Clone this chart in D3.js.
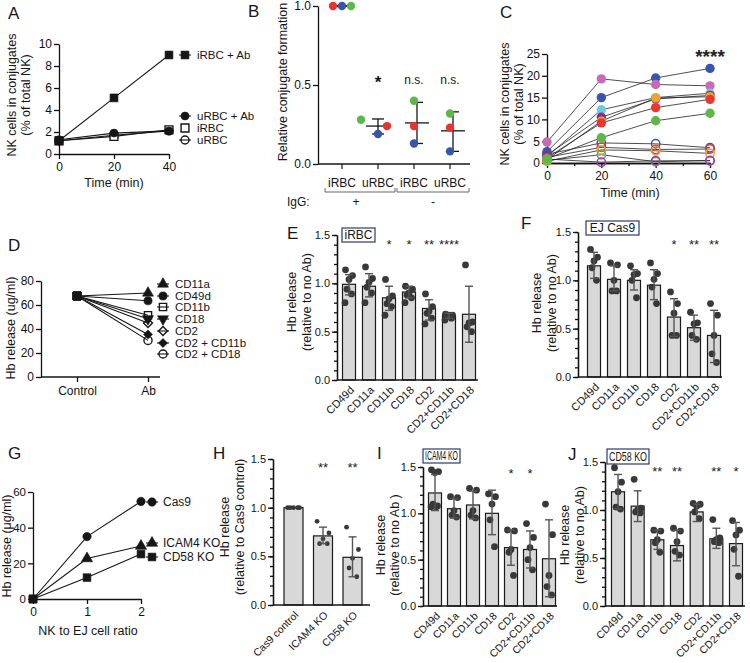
<!DOCTYPE html>
<html>
<head>
<meta charset="utf-8">
<script src="https://cdn.jsdelivr.net/npm/d3@7"></script>
<style>
body{margin:0;background:#fff}
svg{font-family:"Liberation Sans",Arial,Helvetica,sans-serif}
.axis path,.axis line{stroke:#111;stroke-width:1.3}
.axis text{fill:#111;font-family:"Liberation Sans",Arial,sans-serif}
</style>
</head>
<body>
<svg id="fig" width="750" height="663"></svg>
<script>
// ---------------- data ----------------
// A
const aTime=[0,20,40];
const aNames=['iRBC + Ab','uRBC + Ab','iRBC','uRBC'];
const aVals=[[1.2,5.1,9.0],[1.3,1.9,2.1],[1.2,1.6,2.2],[1.2,1.7,2.1]];
const aTicks=[0,2,4,6,8,10];

// B
const bKeys=['iRBC+','uRBC+','iRBC-','uRBC-'];
const bLabels=['iRBC','uRBC','iRBC','uRBC'];
const bRed=[1.0,0.24,0.24,0.23];
const bBlue=[1.0,0.19,0.13,0.08];
const bGreen=[1.0,0.28,0.40,0.32];
const bMean=[1.0,0.24,0.26,0.21];
const bLo=[1.0,0.19,0.13,0.08];
const bHi=[1.0,0.285,0.39,0.33];
const bSig=['','*','n.s.','n.s.'];
const bTicks=[0,0.5,1.0];

// C  (values at 0, 20, 40, 60 min)
const cTime=[0,20,40,60];
const cFilled=[
  [2.6,15.0,19.5,21.7],
  [4.8,19.3,18.0,17.7],
  [1.5,12.2,15.0,16.0],
  [1.8,10.5,14.7,15.5],
  [0.8,9.6,14.9,15.2],
  [1.2,9.2,12.7,14.6],
  [1.0,5.8,9.7,11.4]
];
const cOpen=[
  [2.0,4.6,4.4,3.5],
  [1.3,3.6,3.1,3.2],
  [0.4,3.0,2.8,2.2],
  [0.6,1.9,0.3,0.6],
  [0.9,0.2,0.5,0.5]
];
const cTicks=[0,5,10,15,20,25];

// D
const dGroups=['Control','Ab'];
const dNames=['CD11a','CD49d','CD11b','CD18','CD2','CD2 + CD11b','CD2 + CD18'];
const dCtrl=[67.5,67.5,67.5,67.5,67.5,67.5,67.5];
const dAb=[70,63.5,51.5,48.5,45,35.5,30.5];
const dTicks=[0,20,40,60,80];

// E
const cats7=['CD49d','CD11a','CD11b','CD18','CD2','CD2+CD11b','CD2+CD18'];
const eMean=[0.99,0.97,0.85,0.91,0.74,0.67,0.68];
const eLo=[0.88,0.86,0.72,0.85,0.62,0.64,0.39];
const eHi=[1.09,1.10,0.97,0.97,0.83,0.69,0.97];
const ePts=[[1.14,1.08,1.04,0.94,0.89,0.80],[1.17,1.05,1.01,0.96,0.90,0.80],[1.04,0.87,0.84,0.79,0.76,0.67],
  [0.97,0.94,0.90,0.88,0.85,0.80],[0.89,0.76,0.71,0.69,0.64,0.58],[0.68,0.67,0.67,0.66,0.64,0.62],[1.19,0.60,0.59,0.55,0.50]];
const eSig=['','','*','*','**','****',''];

// F
const fMean=[1.15,1.01,1.00,0.95,0.62,0.51,0.43];
const fLo=[1.02,0.89,0.90,0.80,0.42,0.38,0.15];
const fHi=[1.29,1.15,1.11,1.11,0.81,0.64,0.69];
const fPts=[[1.32,1.24,1.20,1.13,1.00],[1.18,1.16,1.00,0.89,0.89],[1.15,1.07,1.06,1.00,0.82],
  [1.18,1.07,1.01,0.93,0.76],[0.88,0.76,0.66,0.43,0.43],[0.67,0.56,0.55,0.43,0.39],[0.76,0.64,0.43,0.24,0.15]];
const fSig=['','','','','*','**','**'];

// G
const gRatio=[0,1,2];
const gNames=['Cas9','ICAM4 KO','CD58 KO'];
const gVals=[[0,35,54.7],[0,22.7,29.7],[0,12,25.2]];
const gTicks=[0,20,40,60];

// H
const hCats=['Cas9 control','ICAM4 KO','CD58 KO'];
const hMean=[1.0,0.71,0.49];
const hLo=[1.0,0.63,0.29];
const hHi=[1.0,0.80,0.70];
const hPts=[[1,1,1,1,1],[0.86,0.74,0.68,0.63,0.63],[0.80,0.57,0.48,0.38,0.29]];
const hSig=['','**','**'];

// I
const iMean=[1.22,1.05,1.09,1.00,0.63,0.61,0.51];
const iLo=[1.03,0.95,0.94,0.77,0.44,0.41,0.10];
const iHi=[1.42,1.16,1.24,1.25,0.82,0.81,0.93];
const iPts=[[1.47,1.45,1.44,1.10,1.08,1.07,1.07],[1.18,1.17,1.03,0.98,0.96],[1.27,1.25,1.03,0.98,0.95],
  [1.21,1.18,1.10,0.93,0.64],[0.82,0.81,0.61,0.58,0.33],[0.89,0.74,0.63,0.50,0.39],[1.10,0.77,0.33,0.21,0.12]];
const iSig=['','','','','*','*',''];

// J
const jMean=[1.19,1.04,0.69,0.63,0.98,0.70,0.65];
const jLo=[1.01,0.88,0.59,0.47,0.88,0.60,0.42];
const jHi=[1.37,1.20,0.79,0.79,1.06,0.81,0.87];
const jPts=[[1.44,1.29,1.19,1.03,1.01],[1.32,1.02,1.00,0.98,0.97],[0.79,0.78,0.69,0.66,0.56],
  [0.81,0.78,0.67,0.57,0.53],[1.07,1.06,1.04,0.98,0.91],[0.90,0.71,0.69,0.67,0.66],[0.89,0.79,0.74,0.59,0.31]];
const jSig=['','','**','**','','**','*'];

const barTicks=[0,0.5,1.0,1.5];
const barMinor=d3.range(0,16).map(d=>d/10);

// ---------------- helpers ----------------
const svg=d3.select('#fig');
const ink='#161616';

let letter=(t,x,y)=>{
  svg.append('text').attr('x',x).attr('y',y).attr('font-size',17).attr('fill',ink).text(t);
};

let yTitle=(lines,x0,dx,cy,size)=>{
  lines.forEach((t,i)=>{
    svg.append('text')
      .attr('transform',`translate(${x0+i*dx},${cy}) rotate(-90)`)
      .attr('text-anchor','middle').attr('dy','0.35em')
      .attr('font-size',size||12).attr('fill',ink).text(t);
  });
};

let yAxis=(scale,x,ticks,fmt,fs,minor)=>{
  if(minor){
    svg.append('g').attr('class','axis').attr('transform',`translate(${x},0)`)
      .call(d3.axisLeft(scale).tickValues(minor).tickSize(3).tickSizeOuter(0).tickFormat(''));
  }
  let g=svg.append('g').attr('class','axis').attr('transform',`translate(${x},0)`)
    .call(d3.axisLeft(scale).tickValues(ticks).tickSize(5).tickSizeOuter(0).tickPadding(2).tickFormat(fmt));
  g.selectAll('text').attr('font-size',fs||12);
  return g;
};

const symType={circle:d3.symbolCircle,square:d3.symbolSquare,triangle:d3.symbolTriangle,triDown:d3.symbolTriangle,diamond:d3.symbolSquare};
const symRot={triDown:180,diamond:45};
let marker=(g,m,x,y,area)=>{
  g.append('path')
    .attr('d',d3.symbol().type(symType[m.shape]).size(area)())
    .attr('transform',`translate(${x},${y}) rotate(${symRot[m.shape]||0})`)
    .attr('fill',m.filled?m.color:(m.hollow||'none'))
    .attr('stroke',m.color).attr('stroke-width',m.filled?0.6:1.4);
};

// ---------------- A ----------------
letter('A',8,19);
let aX=d3.scaleLinear().domain([0,40]).range([59,169]);
let aY=d3.scaleLinear().domain([0,10]).range([154,44]);
const aMarks=[{shape:'square',filled:true,color:ink},{shape:'circle',filled:true,color:ink},
  {shape:'square',filled:false,color:ink,hollow:'#fff'},{shape:'circle',filled:false,color:ink}];
yAxis(aY,59,aTicks,d3.format('d'),12);
let aXa=svg.append('g').attr('class','axis').attr('transform','translate(0,154)')
  .call(d3.axisBottom(aX).tickValues([0,20,40]).tickSize(5).tickSizeOuter(0).tickPadding(3).tickFormat(d3.format('d')));
aXa.selectAll('text').attr('font-size',12);
let aG=svg.append('g');
aVals.forEach(v=>{
  aG.append('path').attr('d',d3.line().x((d,i)=>aX(aTime[i])).y(d=>aY(d))(v))
    .attr('fill','none').attr('stroke',ink).attr('stroke-width',1.1);
});
[3,2,1,0].forEach(k=>aVals[k].forEach((d,i)=>marker(aG,aMarks[k],aX(aTime[i]),aY(d),k===1||k===3?50:62)));
const aLegY=[55,116,128,140];
aNames.forEach((n,k)=>{
  if(k!==2) aG.append('line').attr('x1',179).attr('x2',191).attr('y1',aLegY[k]).attr('y2',aLegY[k]).attr('stroke',ink).attr('stroke-width',1.1);
  marker(aG,aMarks[k],185,aLegY[k],k===1||k===3?50:62);
  aG.append('text').attr('x',197).attr('y',aLegY[k]).attr('dy','0.35em').attr('font-size',11.5).attr('fill',ink).text(n);
});
svg.append('text').attr('x',114).attr('y',187).attr('text-anchor','middle').attr('font-size',12.5).attr('fill',ink).text('Time (min)');
yTitle(['NK cells in conjugates','(% of total NK)'],12,14,95,12.5);

// ---------------- B ----------------
letter('B',248,17);
let bX=d3.scalePoint().domain(bKeys).range([342,450]);
let bY=d3.scaleLinear().domain([0,1]).range([164,6]);
yAxis(bY,318,bTicks,d3.format('.1f'),12);
svg.append('line').attr('x1',318).attr('x2',470).attr('y1',164).attr('y2',164).attr('stroke',ink).attr('stroke-width',1.3);
let bG=svg.append('g');
bKeys.forEach((k,i)=>{
  let cx=bX(k);
  bG.append('line').attr('x1',cx).attr('x2',cx).attr('y1',164).attr('y2',169).attr('stroke',ink).attr('stroke-width',1.2);
});
const bJit={red:[-9,9,0,0],blue:[0,0,0,0],green:[9,-17,0,0]};
const bCols={red:'#e8352c',blue:'#3a55a6',green:'#5db84a'};
// mean & sd
bKeys.forEach((k,i)=>{
  let cx=bX(k)+(i>=2?3:0);
  bG.append('line').attr('x1',cx-12).attr('x2',cx+12).attr('y1',bY(bMean[i])).attr('y2',bY(bMean[i])).attr('stroke',ink).attr('stroke-width',1.3);
  bG.append('line').attr('x1',cx).attr('x2',cx).attr('y1',bY(bLo[i])).attr('y2',bY(bHi[i])).attr('stroke',ink).attr('stroke-width',1.3);
  [bLo[i],bHi[i]].forEach(v=>bG.append('line').attr('x1',cx-6).attr('x2',cx+6).attr('y1',bY(v)).attr('y2',bY(v)).attr('stroke',ink).attr('stroke-width',1.3));
});
[['red',bRed],['blue',bBlue],['green',bGreen]].forEach(([c,vals])=>{
  vals.forEach((v,i)=>bG.append('circle').attr('cx',bX(bKeys[i])+bJit[c][i]).attr('cy',bY(v)).attr('r',4.2).attr('fill',bCols[c]));
});
bSig.forEach((s,i)=>{
  if(!s) return;
  bG.append('text').attr('x',bX(bKeys[i])).attr('y',s==='*'?88:84).attr('text-anchor','middle')
    .attr('font-size',s==='*'?17:12).attr('font-weight',s==='*'?'bold':'normal').attr('fill',ink).text(s);
});
bLabels.forEach((t,i)=>{
  svg.append('text').attr('x',bX(bKeys[i])).attr('y',187).attr('text-anchor','middle').attr('font-size',12).attr('fill',ink).text(t);
});
[[325,395],[397,469]].forEach(([a,b])=>{
  svg.append('path').attr('d',`M${a},188V192H${b}V188`).attr('fill','none').attr('stroke','#666').attr('stroke-width',1);
});
svg.append('text').attr('x',287).attr('y',206).attr('font-size',12).attr('fill',ink).text('IgG:');
svg.append('text').attr('x',356).attr('y',206).attr('text-anchor','middle').attr('font-size',12).attr('fill',ink).text('+');
svg.append('text').attr('x',433).attr('y',206).attr('text-anchor','middle').attr('font-size',12).attr('fill',ink).text('-');
yTitle(['Relative conjugate formation'],283,0,82,12.5);

// ---------------- C ----------------
letter('C',500,18);
let cX=d3.scaleLinear().domain([0,60]).range([547,710]);
let cY=d3.scaleLinear().domain([0,25]).range([163,54]);
yAxis(cY,547,cTicks,d3.format('d'),12);
svg.append('g').attr('class','axis').attr('transform','translate(0,163)')
  .call(d3.axisBottom(cX).tickValues([10,30,50]).tickSize(3).tickSizeOuter(0).tickFormat(''));
let cXa=svg.append('g').attr('class','axis').attr('transform','translate(0,163)')
  .call(d3.axisBottom(cX).tickValues([0,20,40,60]).tickSize(5).tickSizeOuter(0).tickPadding(3).tickFormat(d3.format('d')));
cXa.selectAll('text').attr('font-size',12);
const cFillCol=['#3a55b0','#c86ab8','#6ccde0','#8a2c8e','#f2a12a','#e9382f','#5cb848'];
const cOpenCol=['#3a55b0','#e9382f','#f2a12a','#5cb848','#a234b8'];
let cG=svg.append('g');
let cLine=d3.line().x((d,i)=>cX(cTime[i])).y(d=>cY(d));
cOpen.concat(cFilled).forEach(v=>{
  cG.append('path').attr('d',cLine(v)).attr('fill','none').attr('stroke','#222').attr('stroke-width',0.8);
});
cOpen.forEach((v,k)=>v.forEach((d,i)=>cG.append('circle').attr('cx',cX(cTime[i])).attr('cy',cY(d)).attr('r',4.2)
  .attr('fill','none').attr('stroke',cOpenCol[k]).attr('stroke-width',1.5)));
cFilled.forEach((v,k)=>v.forEach((d,i)=>cG.append('circle').attr('cx',cX(cTime[i])).attr('cy',cY(d)).attr('r',4.7)
  .attr('fill',cFillCol[k])));
svg.append('text').attr('x',710).attr('y',63).attr('text-anchor','middle').attr('font-size',19).attr('font-weight','bold').attr('fill','#222').text('****');
svg.append('text').attr('x',630).attr('y',197).attr('text-anchor','middle').attr('font-size',12.5).attr('fill',ink).text('Time (min)');
yTitle(['NK cells in conjugates','(% of total NK)'],505,14,104,12.5);

// ---------------- D ----------------
letter('D',8,251);
let dX=d3.scalePoint().domain(dGroups).range([77,148]);
let dY=d3.scaleLinear().domain([0,80]).range([377,281]);
yAxis(dY,41,dTicks,d3.format('d'),12);
let dXa=svg.append('g').attr('class','axis').attr('transform','translate(0,377)')
  .call(d3.axisBottom(dX).tickSize(5).tickSizeOuter(0).tickPadding(4));
dXa.select('.domain').remove();
dXa.selectAll('text').attr('font-size',12);
svg.append('line').attr('x1',41).attr('x2',160).attr('y1',377).attr('y2',377).attr('stroke',ink).attr('stroke-width',1.3);
const dMarks=[{shape:'triangle',filled:true},{shape:'circle',filled:true},{shape:'square',filled:false},
  {shape:'triDown',filled:true},{shape:'diamond',filled:false},{shape:'diamond',filled:true},{shape:'circle',filled:false}]
  .map(m=>Object.assign(m,{color:ink}));
let dG=svg.append('g');
dNames.forEach((n,k)=>{
  dG.append('line').attr('x1',dX('Control')).attr('x2',dX('Ab')).attr('y1',dY(dCtrl[k])).attr('y2',dY(dAb[k]))
    .attr('stroke',ink).attr('stroke-width',1.1);
});
dNames.forEach((n,k)=>{
  marker(dG,dMarks[k],dX('Ab'),dY(dAb[k]),dMarks[k].shape==='diamond'?40:52);
  marker(dG,{shape:'square',filled:true,color:ink},dX('Control'),dY(dCtrl[k]),64);
});
const dLegY=[284,296,307,319,331,343,354];
dNames.forEach((n,k)=>{
  dG.append('line').attr('x1',157).attr('x2',169).attr('y1',dLegY[k]).attr('y2',dLegY[k]).attr('stroke',ink).attr('stroke-width',1.1);
  marker(dG,dMarks[k],163,dLegY[k],dMarks[k].shape==='diamond'?40:52);
  dG.append('text').attr('x',175).attr('y',dLegY[k]).attr('dy','0.35em').attr('font-size',11.5).attr('fill',ink).text(n);
});
yTitle(['Hb release (ug/ml)'],11,0,328,12.5);

// ---------------- bar panels ----------------
const jit=[-3.5,3.5,0,-2,2.5,-4,1];
let barPanel=(p)=>{
  let y=d3.scaleLinear().domain([0,1.5]).range([p.y0,p.y15]);
  let x=d3.scalePoint().domain(p.cats).range([p.c0,p.c1]);
  let g=svg.append('g');
  g.selectAll('rect').data(p.cats).enter().append('rect')
    .attr('x',d=>x(d)-p.bw/2).attr('width',p.bw)
    .attr('y',(d,i)=>y(p.mean[i])).attr('height',(d,i)=>y(0)-y(p.mean[i]))
    .attr('fill','#d8d8d8').attr('stroke','#1a1a1a').attr('stroke-width',1.2);
  p.cats.forEach((c,i)=>{
    p.pts[i].forEach((v,j)=>{
      g.append('circle').attr('cx',x(c)+jit[j%jit.length]*p.jw).attr('cy',y(v)).attr('r',p.r).attr('fill','#383838');
    });
  });
  p.cats.forEach((c,i)=>{
    if(p.lo[i]===p.hi[i]) return;
    let cx=x(c);
    g.append('line').attr('x1',cx).attr('x2',cx).attr('y1',y(p.lo[i])).attr('y2',y(p.hi[i])).attr('stroke','#555').attr('stroke-width',1.4);
    [p.lo[i],p.hi[i]].forEach(v=>g.append('line').attr('x1',cx-4).attr('x2',cx+4).attr('y1',y(v)).attr('y2',y(v)).attr('stroke','#555').attr('stroke-width',1.4));
  });
  yAxis(y,p.ax,barTicks,d3.format('.1f'),11,barMinor);
  svg.append('line').attr('x1',p.ax).attr('x2',p.xEnd).attr('y1',y(0)).attr('y2',y(0)).attr('stroke',ink).attr('stroke-width',1.3);
  p.cats.forEach((c,i)=>{
    svg.append('text').attr('transform',`translate(${x(c)+3},${y(0)+8}) rotate(-45)`)
      .attr('text-anchor','end').attr('dy','0.35em').attr('font-size',p.lfs||10.5).attr('fill',ink).text(c);
    if(p.sig[i]) svg.append('text').attr('x',x(c)).attr('y',y(p.sigV)+7.5).attr('text-anchor','middle')
      .attr('font-size',13).attr('fill','#222').text(p.sig[i]);
  });
  if(p.box){
    let b=p.box;
    svg.append('rect').attr('x',b[0]).attr('y',b[1]).attr('width',b[2]).attr('height',b[3])
      .attr('fill','#fff').attr('stroke','#2b3a6a').attr('stroke-width',1.2);
    let t=svg.append('text').attr('x',b[0]+b[2]/2).attr('y',b[1]+b[3]/2).attr('dy','0.36em').attr('text-anchor','middle')
      .attr('font-size',12).attr('fill',ink).text(b[4]);
    if(b[5]) t.attr('textLength',b[5]).attr('lengthAdjust','spacingAndGlyphs');
  }
  yTitle(p.title,p.tx,p.tdx,p.ty,12.5);
};

letter('E',287,239);
barPanel({cats:cats7,mean:eMean,lo:eLo,hi:eHi,pts:ePts,sig:eSig,ax:337,y15:235,y0:380,c0:349,c1:469,bw:13,xEnd:478,
  r:3.4,jw:1,sigV:1.43,lfs:11,box:[342,228,33,14,'iRBC'],title:['Hb release','(relative to no Ab)'],tx:292,tdx:15,ty:302});
letter('F',521,229);
barPanel({cats:cats7,mean:fMean,lo:fLo,hi:fHi,pts:fPts,sig:fSig,ax:578,y15:232,y0:377,c0:594,c1:714,bw:13,xEnd:722,
  r:3.4,jw:1,sigV:1.40,lfs:11,box:[586,221,53,14,'EJ Cas9'],title:['Hb release','(relative to no Ab)'],tx:537,tdx:15,ty:303});

// ---------------- G ----------------
letter('G',8,459);
let gX=d3.scaleLinear().domain([0,2]).range([33,141]);
let gY=d3.scaleLinear().domain([0,60]).range([599,492]);
yAxis(gY,33,gTicks,d3.format('d'),11.5);
let gXa=svg.append('g').attr('class','axis').attr('transform','translate(0,599)')
  .call(d3.axisBottom(gX).tickValues([0,1,2]).tickSize(5).tickSizeOuter(0).tickPadding(3).tickFormat(d3.format('d')));
gXa.selectAll('text').attr('font-size',12);
const gMarks=[{shape:'circle',filled:true,color:ink},{shape:'triangle',filled:true,color:ink},{shape:'square',filled:true,color:ink}];
let gG=svg.append('g');
gVals.forEach(v=>gG.append('path').attr('d',d3.line().x((d,i)=>gX(gRatio[i])).y(d=>gY(d))(v))
  .attr('fill','none').attr('stroke',ink).attr('stroke-width',1.1));
gVals.forEach((v,k)=>v.forEach((d,i)=>marker(gG,i===0?gMarks[2]:gMarks[k],gX(gRatio[i]),gY(d),i===0||k===2?60:55)));
const gLegY=[502,543,557];
gNames.forEach((n,k)=>{
  gG.append('line').attr('x1',146).attr('x2',158).attr('y1',gLegY[k]).attr('y2',gLegY[k]).attr('stroke',ink).attr('stroke-width',1.1);
  marker(gG,gMarks[k],152,gLegY[k],k===2?60:55);
  gG.append('text').attr('x',163).attr('y',gLegY[k]).attr('dy','0.35em').attr('font-size',12).attr('fill',ink).text(n);
});
svg.append('text').attr('x',88).attr('y',635).attr('text-anchor','middle').attr('font-size',12.5).attr('fill',ink).text('NK to EJ cell ratio');
yTitle(['Hb release (\u03bcg/ml)'],7,0,546,12.5);

// ---------------- H I J ----------------
letter('H',213,459);
barPanel({cats:hCats,mean:hMean,lo:hLo,hi:hHi,pts:hPts,sig:hSig,ax:273,y15:459,y0:605,c0:293.5,c1:352.5,bw:19,xEnd:370,
  r:2.4,jw:1.7,sigV:1.44,title:['Hb release','(relative to Cas9 control)'],tx:225,tdx:15,ty:527});
letter('I',377,459);
barPanel({cats:cats7,mean:iMean,lo:iLo,hi:iHi,pts:iPts,sig:iSig,ax:423,y15:467,y0:606,c0:435,c1:549,bw:13,xEnd:557,
  r:3.4,jw:1,sigV:1.46,box:[423,449,37,14,'ICAM4 KO',33],title:['Hb release','(relative to no Ab )'],tx:381,tdx:14,ty:545});
letter('J',568,460);
barPanel({cats:cats7,mean:jMean,lo:jLo,hi:jHi,pts:jPts,sig:jSig,ax:605,y15:462,y0:606,c0:618,c1:736,bw:13,xEnd:745,
  r:3.4,jw:1,sigV:1.43,box:[607,449,42,15,'CD58 KO',38],title:['Hb release','(relative to no Ab)'],tx:565,tdx:15,ty:535});
</script>
</body>
</html>
